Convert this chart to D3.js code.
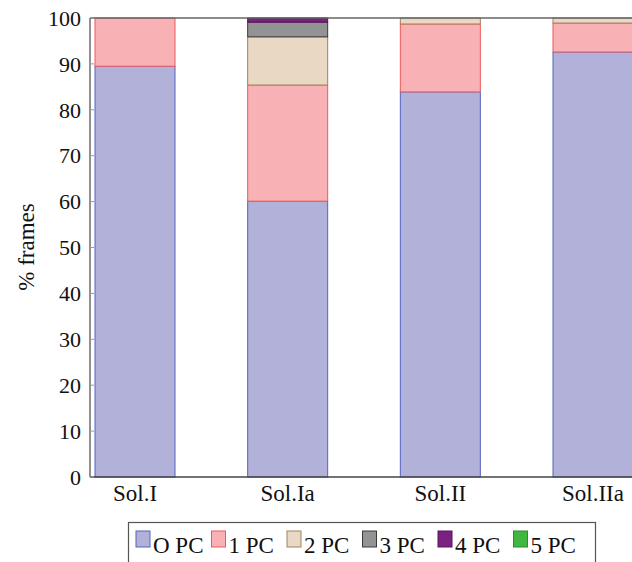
<!DOCTYPE html>
<html>
<head>
<meta charset="utf-8">
<script src="https://cdn.jsdelivr.net/npm/d3@7"></script>
<style>
  body { margin: 0; background: #fff; }
  text { font-family: "Liberation Serif", "DejaVu Serif", serif; fill: #111; }
</style>
</head>
<body>
<svg></svg>
<script>
var categories = ["Sol.I", "Sol.Ia", "Sol.II", "Sol.IIa"];
var seriesNames = ["O PC", "1 PC", "2 PC", "3 PC", "4 PC", "5 PC"];
var pc0 = [89.5, 60.1, 83.9, 92.6];
var pc1 = [10.5, 25.3, 14.8, 6.3];
var pc2 = [0, 10.5, 1.3, 1.1];
var pc3 = [0, 3.2, 0, 0];
var pc4 = [0, 0.9, 0, 0];
var pc5 = [0, 0, 0, 0];
var yTicks = [0, 10, 20, 30, 40, 50, 60, 70, 80, 90, 100];

var fills = ["#b1b1d9", "#f8b1b4", "#e9d8c4", "#939393", "#7b2180", "#40b840"];
var strokes = ["#5564c0", "#f05a5a", "#a3825f", "#3a3a3a", "#5a1060", "#2e8a2e"];

var width = 632;
var height = 562;
var plotLeft = 90, plotTop = 18, plotBottom = 477;

var series = [pc0, pc1, pc2, pc3, pc4, pc5];
var rows = categories.map((c, i) => {
  var r = { cat: c };
  seriesNames.forEach((s, j) => (r[s] = series[j][i]));
  return r;
});
var stacked = d3.stack().keys(seriesNames)(rows);

var svg = d3.select("svg").attr("width", width).attr("height", height);

var x = d3.scalePoint().domain(categories).range([135, 593]);
var y = d3.scaleLinear().domain([0, 100]).range([plotBottom, plotTop]);
var barW = 80;

svg.append("g")
  .selectAll("g")
  .data(stacked)
  .enter()
  .append("g")
  .attr("fill", (d, i) => fills[i])
  .attr("stroke", (d, i) => strokes[i])
  .attr("stroke-width", 1)
  .selectAll("rect")
  .data((d) => d.filter((p) => p[1] - p[0] > 0))
  .enter()
  .append("rect")
  .attr("x", (d) => x(d.data.cat) - barW / 2)
  .attr("width", barW)
  .attr("y", (d) => y(d[1]))
  .attr("height", (d) => y(d[0]) - y(d[1]));

// axes frame
svg.append("line").attr("x1", plotLeft).attr("x2", width).attr("y1", plotTop).attr("y2", plotTop)
  .attr("stroke", "#666").attr("stroke-width", 1.3);
svg.append("line").attr("x1", plotLeft).attr("x2", width).attr("y1", plotBottom).attr("y2", plotBottom)
  .attr("stroke", "#444").attr("stroke-width", 1.3);
svg.append("line").attr("x1", plotLeft).attr("x2", plotLeft).attr("y1", plotTop).attr("y2", plotBottom)
  .attr("stroke", "#555").attr("stroke-width", 1.3);

var yAxis = svg.append("g").attr("transform", `translate(${plotLeft},0)`);
yAxis.selectAll(".tick")
  .data(yTicks)
  .enter()
  .append("line")
  .attr("x1", 0).attr("x2", 4)
  .attr("y1", (d) => y(d)).attr("y2", (d) => y(d))
  .attr("stroke", "#999");
yAxis.selectAll(".lbl")
  .data(yTicks)
  .enter()
  .append("text")
  .attr("x", -9)
  .attr("y", (d) => y(d))
  .attr("dy", "0.35em")
  .attr("text-anchor", "end")
  .attr("font-size", 22)
  .text((d) => d);

svg.append("g")
  .selectAll("text")
  .data(categories)
  .enter()
  .append("text")
  .attr("x", (d) => x(d))
  .attr("y", 501)
  .attr("text-anchor", "middle")
  .attr("font-size", 23)
  .text((d) => d);

svg.append("text")
  .attr("transform", `translate(34, 247) rotate(-90)`)
  .attr("text-anchor", "middle")
  .attr("font-size", 23)
  .text("% frames");

// legend
var lg = svg.append("g");
lg.append("rect").attr("x", 128.5).attr("y", 522.5).attr("width", 467).attr("height", 50)
  .attr("fill", "#fff").attr("stroke", "#555").attr("stroke-width", 1.2);
var item = lg.selectAll(".item")
  .data(seriesNames)
  .enter()
  .append("g")
  .attr("transform", (d, i) => `translate(${136 + i * 75.5}, 0)`);
item.append("rect")
  .attr("x", 0).attr("y", 531).attr("width", 14).attr("height", 16)
  .attr("fill", (d, i) => fills[i])
  .attr("stroke", (d, i) => strokes[i]);
item.append("text")
  .attr("x", 17).attr("y", 553)
  .attr("font-size", 23)
  .text((d) => d);
</script>
</body>
</html>
